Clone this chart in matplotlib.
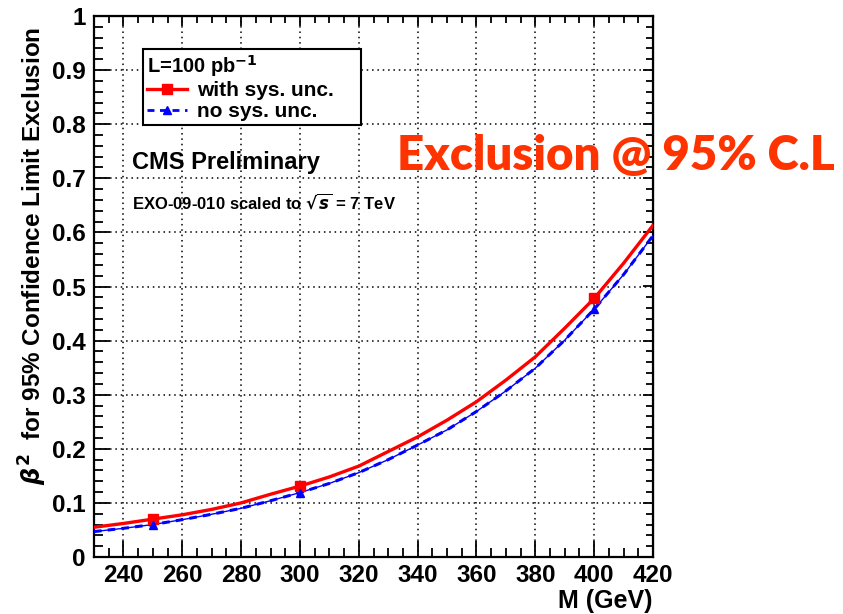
import matplotlib
matplotlib.use("Agg")
import matplotlib.pyplot as plt
from matplotlib.lines import Line2D
from matplotlib.ticker import MultipleLocator, FixedLocator, FixedFormatter

# ---------------- data ----------------
mass = [230, 240, 250, 260, 270, 280, 290, 300, 310, 320,
        330, 340, 350, 360, 370, 380, 390, 400, 410, 420]
beta2_with_sys = [0.055, 0.062, 0.070, 0.078, 0.088, 0.100, 0.116, 0.131, 0.148, 0.168,
                  0.195, 0.222, 0.253, 0.287, 0.327, 0.370, 0.423, 0.478, 0.543, 0.613]
beta2_no_sys = [0.047, 0.053, 0.060, 0.069, 0.079, 0.090, 0.104, 0.119, 0.136, 0.156,
                0.180, 0.207, 0.235, 0.269, 0.307, 0.349, 0.401, 0.458, 0.522, 0.594]
mark_mass = [250, 300, 400]
mark_with_sys = [0.070, 0.131, 0.478]
mark_no_sys = [0.060, 0.119, 0.458]

x_ticks = [240, 260, 280, 300, 320, 340, 360, 380, 400, 420]
x_ticklabels = ["240", "260", "280", "300", "320", "340", "360", "380", "400", "420"]
y_ticks = [0, 0.1, 0.2, 0.3, 0.4, 0.5, 0.6, 0.7, 0.8, 0.9, 1.0]
y_ticklabels = ["0", "0.1", "0.2", "0.3", "0.4", "0.5", "0.6", "0.7", "0.8", "0.9", "1"]

plt.rcParams['font.family'] = ['Liberation Sans', 'DejaVu Sans']
plt.rcParams['font.weight'] = 'bold'

W, H = 843, 614
fig = plt.figure(figsize=(W / 100, H / 100), dpi=100)
ax = fig.add_axes([94 / W, 1 - 557 / H, (653 - 94) / W, (557 - 16) / H])

red = '#ff0000'
blue = '#0000ff'

ax.plot(mass, beta2_with_sys, color=red, lw=2.4, zorder=4)
ax.plot(mark_mass, mark_with_sys, ls='none', marker='s', ms=6.5, color=red, zorder=5)
ax.plot(mass, beta2_no_sys, color=blue, lw=1.0, zorder=3)
ax.plot(mass, beta2_no_sys, color=blue, lw=2.2, ls=(0, (2.5, 2.0)), zorder=3)
ax.plot(mark_mass, mark_no_sys, ls='none', marker='^', ms=6, color=blue, zorder=5)

ax.set_xlim(230, 420)
ax.set_ylim(0, 1)
ax.xaxis.set_major_locator(FixedLocator(x_ticks))
ax.xaxis.set_major_formatter(FixedFormatter(x_ticklabels))
ax.xaxis.set_minor_locator(MultipleLocator(5))
ax.yaxis.set_major_locator(FixedLocator(y_ticks))
ax.yaxis.set_major_formatter(FixedFormatter(y_ticklabels))
ax.yaxis.set_minor_locator(MultipleLocator(0.02))

ax.grid(True, which='major', color='black', ls=(0, (1, 2.5)), lw=1.1)
ax.tick_params(which='both', direction='in', width=1.3, colors='black', labelsize=17.5)
ax.tick_params(which='major', length=11.5)
ax.tick_params(which='minor', length=6.5)
ax.tick_params(axis='x', pad=5)
ax.tick_params(axis='y', pad=6)
for lab in ax.get_xticklabels() + ax.get_yticklabels():
    lab.set_fontweight('bold')
for s in ax.spines.values():
    s.set_linewidth(1.6)
    s.set_color('black')

# top / right ticks (shorter)
secx = ax.secondary_xaxis('top')
secx.xaxis.set_major_locator(FixedLocator(x_ticks))
secx.xaxis.set_minor_locator(MultipleLocator(5))
secx.tick_params(which='both', direction='in', labeltop=False, width=1.3)
secx.tick_params(which='major', length=7)
secx.tick_params(which='minor', length=5)
secy = ax.secondary_yaxis('right')
secy.yaxis.set_major_locator(FixedLocator(y_ticks))
secy.yaxis.set_minor_locator(MultipleLocator(0.02))
secy.tick_params(which='both', direction='in', labelright=False, width=1.3)
secy.tick_params(which='major', length=7)
secy.tick_params(which='minor', length=5)

# legend
h1 = Line2D([], [], color=red, lw=2.4, marker='s', ms=6.5)
h2 = Line2D([], [], color=blue, lw=2.0, ls=(0, (2.5, 2.0)), marker='^', ms=6)
leg = ax.legend([h1, h2], ["with sys. unc.    ", "no sys. unc."],
                title="L=100 pb$^{-1}$", alignment='left',
                loc='upper left', bbox_to_anchor=(143 / W, 1 - 49 / H),
                bbox_transform=fig.transFigure,
                fontsize=15, title_fontproperties={'size': 14.5, 'weight': 'bold'},
                frameon=True, fancybox=False, framealpha=1, edgecolor='black',
                handlelength=1.9, handletextpad=0.5, borderpad=0.2,
                labelspacing=0.1, borderaxespad=0)
leg.get_frame().set_linewidth(1.5)
for t in leg.get_texts():
    t.set_fontweight('bold')

fig.text(132 / W, 1 - 162 / H, "CMS Preliminary", fontsize=17, weight='bold',
         ha='left', va='center')
fig.text(132 / W, 1 - 202 / H, "EXO-09-010 scaled to $\\sqrt{s}$ = 7 TeV",
         fontsize=12, weight='bold', ha='left', va='center')

fig.text(33 / W, 1 - 256 / H, "$\\beta^2$  for 95% Confidence Limit Exclusion",
         rotation=90, fontsize=17.5, weight='bold', ha='center', va='center')
fig.text(653 / W, 1 - 601 / H, "M (GeV)", fontsize=18, weight='bold',
         ha='right', va='center')

fig.text(616 / W, 1 - 156 / H, "Exclusion @ 95% C.L", fontsize=34, weight='heavy',
         family=['Lato', 'DejaVu Sans'], color='#ff3300', ha='center', va='center',
         zorder=10)

fig.savefig("out.png", dpi=100)
